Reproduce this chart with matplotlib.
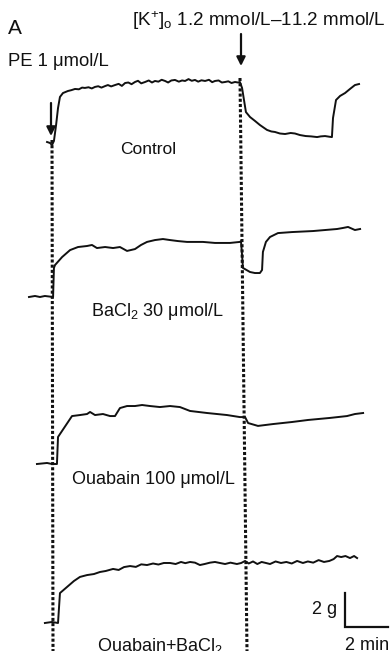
import matplotlib
matplotlib.use("Agg")
import matplotlib.pyplot as plt

plt.rcParams['font.family'] = ['Liberation Sans', 'DejaVu Sans']
plt.rcParams['mathtext.fontset'] = 'custom'
plt.rcParams['mathtext.rm'] = 'Liberation Sans'
plt.rcParams['mathtext.it'] = 'Liberation Sans'

# time in min (0 = PE added), tension in g above each trace's resting level
ctrl_t = [
    -0.23, -0.09, 0.00, 0.09, 0.19, 0.28, 0.37, 0.51, 0.74, 0.90,
    1.07, 1.25, 1.40, 1.53, 1.70, 1.85, 2.00, 2.15, 2.30, 2.47,
    2.60, 2.75, 2.93, 3.10, 3.25, 3.40, 3.55, 3.70, 3.86, 4.00,
    4.15, 4.33, 4.50, 4.65, 4.79, 4.95, 5.10, 5.26, 5.40, 5.55,
    5.72, 5.90, 6.05, 6.19, 6.35, 6.50, 6.65, 6.80, 6.95, 7.12,
    7.30, 7.45, 7.58, 7.75, 7.90, 8.05, 8.20, 8.35, 8.51, 8.65,
    8.74, 8.84, 8.93, 9.02, 9.21, 9.44, 9.67, 10.00, 10.20, 10.37,
    10.60, 10.84, 11.10, 11.30, 11.53, 11.80, 12.05, 12.33, 12.50, 12.70,
    12.90, 13.02, 13.07, 13.21, 13.40, 13.63, 13.86, 14.09, 14.28]
ctrl_g = [
    0.00, -0.06, -0.18, 0.06, 1.00, 2.00, 2.65, 2.88, 3.00, 3.05,
    3.12, 3.10, 3.20, 3.18, 3.22, 3.15, 3.24, 3.28, 3.20, 3.29,
    3.35, 3.27, 3.35, 3.42, 3.30, 3.47, 3.50, 3.40, 3.53, 3.60,
    3.45, 3.53, 3.62, 3.50, 3.59, 3.55, 3.66, 3.59, 3.50, 3.62,
    3.65, 3.55, 3.62, 3.59, 3.70, 3.60, 3.65, 3.55, 3.63, 3.59,
    3.66, 3.52, 3.59, 3.62, 3.50, 3.53, 3.57, 3.47, 3.53, 3.50,
    3.53, 3.18, 2.47, 1.76, 1.47, 1.24, 1.00, 0.71, 0.62, 0.59,
    0.50, 0.47, 0.53, 0.50, 0.41, 0.35, 0.33, 0.29, 0.33, 0.35,
    0.31, 0.29, 1.41, 2.47, 2.71, 2.88, 3.12, 3.35, 3.41]

ba_t = [
    -1.07, -0.79, -0.56, -0.33, 0.05, 0.09, 0.14, 0.47, 0.84, 1.21,
    1.63, 1.86, 2.09, 2.47, 2.84, 3.16, 3.49, 3.86, 4.14, 4.42,
    4.79, 5.16, 5.49, 5.86, 6.28, 7.02, 7.58, 8.28, 8.74, 8.79,
    8.84, 8.88, 9.21, 9.44, 9.67, 9.77, 9.81, 9.95, 10.14, 10.51,
    11.16, 12.14, 13.26, 13.53, 13.77, 14.09, 14.33]
ba_g = [
    0.00, 0.06, 0.00, 0.06, 0.00, 1.71, 1.88, 2.35, 2.76, 2.94,
    3.00, 3.06, 2.88, 2.94, 2.88, 2.94, 2.71, 2.82, 3.06, 3.24,
    3.35, 3.41, 3.35, 3.29, 3.24, 3.24, 3.18, 3.18, 3.24, 3.29,
    2.47, 1.71, 1.47, 1.41, 1.41, 1.59, 2.65, 3.24, 3.53, 3.76,
    3.82, 3.88, 4.00, 4.06, 4.12, 3.94, 4.00]

oua_t = [
    -0.70, -0.23, 0.00, 0.23, 0.28, 0.93, 1.30, 1.63, 1.77, 2.00,
    2.37, 2.70, 2.93, 3.16, 3.49, 3.86, 4.19, 4.56, 5.02, 5.49,
    5.95, 6.42, 7.21, 8.14, 8.74, 8.98, 9.12, 9.58, 10.28, 11.16,
    11.91, 12.93, 13.72, 14.09, 14.47]
oua_g = [
    0.00, 0.06, 0.00, 0.00, 1.59, 2.82, 2.88, 2.94, 3.06, 2.88,
    2.94, 2.82, 2.82, 3.29, 3.41, 3.41, 3.47, 3.41, 3.35, 3.41,
    3.35, 3.12, 3.00, 2.88, 2.76, 2.76, 2.41, 2.24, 2.35, 2.47,
    2.59, 2.71, 2.82, 2.94, 3.00]

ob_t = [
    -0.33, 0.00, 0.28, 0.37, 0.70, 1.02, 1.30, 1.63, 1.95, 2.23,
    2.50, 2.84, 3.10, 3.35, 3.63, 3.90, 4.15, 4.42, 4.70, 4.95,
    5.20, 5.49, 5.75, 6.00, 6.20, 6.42, 6.65, 6.88, 7.10, 7.35,
    7.58, 7.81, 8.05, 8.30, 8.60, 8.80, 8.98, 9.15, 9.35, 9.55,
    9.75, 9.95, 10.14, 10.40, 10.65, 10.90, 11.15, 11.40, 11.67, 11.90,
    12.15, 12.40, 12.65, 12.90, 13.10, 13.26, 13.45, 13.65, 13.86, 14.05,
    14.19]
ob_g = [
    0.00, 0.06, 0.00, 1.76, 2.12, 2.47, 2.71, 2.82, 2.88, 3.00,
    3.06, 3.18, 3.12, 3.29, 3.35, 3.30, 3.45, 3.41, 3.50, 3.44,
    3.53, 3.53, 3.47, 3.59, 3.52, 3.59, 3.55, 3.41, 3.47, 3.55,
    3.59, 3.53, 3.47, 3.55, 3.47, 3.53, 3.65, 3.50, 3.62, 3.47,
    3.59, 3.53, 3.47, 3.62, 3.53, 3.59, 3.50, 3.65, 3.53, 3.62,
    3.55, 3.70, 3.59, 3.65, 3.76, 3.94, 3.88, 3.94, 3.82, 3.94,
    3.82]

traces = [(ctrl_t, ctrl_g), (ba_t, ba_g), (oua_t, oua_g), (ob_t, ob_g)]
labels = ['Control', 'BaCl$_2$ 30 μmol/L', 'Ouabain 100 μmol/L', 'Ouabain+BaCl$_2$']

# layout (figure pixels -> min / g)
W, H = 391, 651
px_min, px_g = 21.5, 17.0
x0 = 52
def tx(px):
    return (px - x0) / px_min
def gy(py):
    return -py / px_g

base_py = [142, 297, 464, 623]
label_pos = [(120, 150), (91, 311), (72, 480), (97, 646)]
label_size = [12.5, 13, 13, 13]

fig = plt.figure(figsize=(W / 100, H / 100), dpi=100)
ax = fig.add_axes([0, 0, 1, 1])
ax.set_xlim(tx(0), tx(W))
ax.set_ylim(gy(H), gy(0))
ax.axis('off')

for (t, g), b in zip(traces, base_py):
    ax.plot(t, [v + gy(b) for v in g], color='#111111', lw=1.4,
            solid_joinstyle='round')

# dotted markers for PE and K+ change
dot = (0, (1.0, 0.7))
ax.plot([tx(52), tx(53)], [gy(140), gy(H)], color='#111111', lw=2.2, ls=dot)
ax.plot([tx(240), tx(247)], [gy(78), gy(H)], color='#111111', lw=2.2, ls=dot)

# arrows
arrow = dict(arrowstyle='-|>', color='#111111', lw=1.6, mutation_scale=13,
             shrinkA=0, shrinkB=0)
ax.annotate('', xy=(tx(51), gy(136)), xytext=(tx(51), gy(103)), arrowprops=arrow)
ax.annotate('', xy=(tx(241), gy(66)), xytext=(tx(241), gy(34)), arrowprops=arrow)

# scale bar: 2 g, 2 min
sb_x, sb_y = tx(345), gy(627)
ax.plot([sb_x, sb_x, sb_x + 2], [sb_y + 2, sb_y, sb_y], color='#111111', lw=1.6,
        solid_joinstyle='miter')

def ftext(px, py, s, size=12.5, **kw):
    fig.text(px / W, 1 - py / H, s, fontsize=size, va='center', ha='left',
             color='#111111', **kw)

ftext(8, 28, 'A', size=15)
ftext(132, 21, '[K$^{+}$]$_{\\mathrm{o}}$ 1.2 mmol/L–11.2 mmol/L', size=13.6)
ftext(8, 62, 'PE 1 μmol/L', size=13.3)
for s, (px, py), fs in zip(labels, label_pos, label_size):
    ftext(px, py, s, size=fs)
ftext(312, 610, '2 g', size=13)
ftext(345, 645, '2 min', size=13)

fig.savefig('out.png', dpi=100)
